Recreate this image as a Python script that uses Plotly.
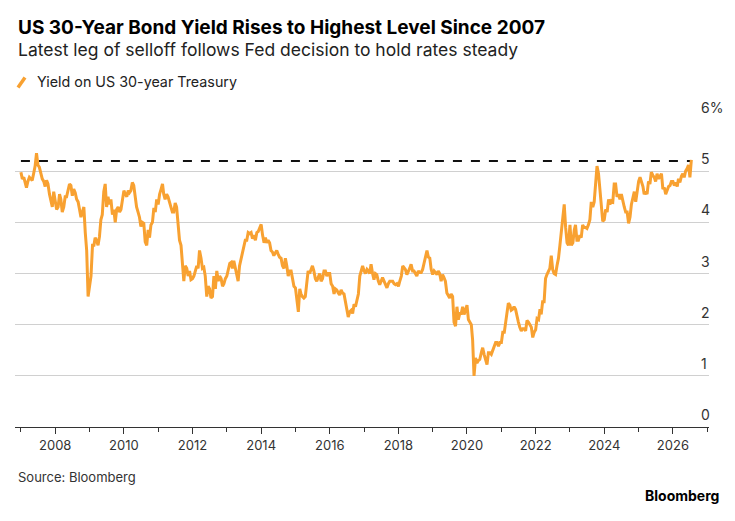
import plotly.graph_objects as go

# ---------------- data (semi-monthly readings: 1st and 16th of each month) ----------------
y2007 = [4.98, 4.85, 4.88, 4.75, 4.68, 4.80, 4.88, 4.85, 4.82, 4.95, 5.10, 5.35,
         5.12, 5.08, 4.95, 4.85, 4.80, 4.70, 4.82, 4.75, 4.55, 4.40, 4.30, 4.60]
y2008 = [4.45, 4.25, 4.30, 4.55, 4.45, 4.20, 4.30, 4.50, 4.50, 4.62, 4.75, 4.72,
         4.52, 4.65, 4.58, 4.45, 4.40, 4.25, 4.10, 4.20, 4.30, 3.80, 3.45, 2.55]
y2009 = [2.75, 2.95, 3.55, 3.55, 3.70, 3.65, 3.55, 3.72, 4.05, 4.15, 4.60, 4.75,
         4.30, 4.50, 4.35, 4.45, 4.15, 4.25, 4.00, 4.25, 4.30, 4.20, 4.25, 4.45]
y2010 = [4.62, 4.55, 4.50, 4.62, 4.58, 4.62, 4.78, 4.72, 4.50, 4.30, 4.20, 4.10,
         3.92, 4.00, 3.98, 3.62, 3.55, 3.85, 3.70, 3.95, 4.00, 4.28, 4.20, 4.45]
y2011 = [4.35, 4.55, 4.65, 4.75, 4.55, 4.45, 4.55, 4.50, 4.40, 4.30, 4.20, 4.20,
         4.38, 4.30, 4.00, 3.65, 3.55, 3.25, 2.85, 3.15, 3.10, 2.95, 3.05, 2.88]
y2012 = [2.90, 2.95, 3.05, 3.15, 3.10, 3.45, 3.30, 3.10, 3.12, 2.95, 2.55, 2.75,
         2.70, 2.52, 2.55, 2.95, 2.70, 3.05, 2.85, 2.95, 2.90, 2.75, 2.80, 2.90]
y2013 = [2.95, 3.05, 3.20, 3.22, 3.10, 3.25, 3.10, 2.92, 2.85, 3.15, 3.30, 3.40,
         3.52, 3.65, 3.65, 3.80, 3.78, 3.80, 3.68, 3.75, 3.65, 3.80, 3.82, 3.88]
y2014 = [3.96, 3.75, 3.60, 3.70, 3.60, 3.65, 3.60, 3.45, 3.42, 3.35, 3.40, 3.45,
         3.38, 3.32, 3.30, 3.15, 3.10, 3.30, 3.15, 2.95, 3.05, 3.05, 2.90, 2.75]
y2015 = [2.72, 2.45, 2.25, 2.70, 2.60, 2.55, 2.52, 2.55, 2.80, 3.05, 3.00, 3.10,
         3.15, 3.05, 2.90, 2.85, 2.95, 3.00, 2.85, 2.90, 3.05, 3.05, 2.95, 3.00]
y2016 = [3.00, 2.80, 2.75, 2.60, 2.70, 2.68, 2.62, 2.58, 2.68, 2.62, 2.60, 2.45,
         2.25, 2.15, 2.25, 2.28, 2.22, 2.40, 2.35, 2.50, 2.60, 2.95, 3.05, 3.15]
y2017 = [3.05, 3.00, 3.08, 3.05, 3.00, 3.18, 3.00, 2.88, 3.00, 2.98, 2.85, 2.78,
         2.85, 2.92, 2.85, 2.80, 2.72, 2.80, 2.85, 2.85, 2.85, 2.80, 2.78, 2.80]
y2018 = [2.75, 2.85, 2.95, 3.15, 3.12, 3.08, 2.98, 3.03, 3.10, 3.18, 3.05, 3.05,
         2.98, 2.95, 3.05, 3.02, 3.02, 3.08, 3.20, 3.35, 3.45, 3.32, 3.30, 3.08]
y2019 = [2.98, 3.05, 3.00, 2.98, 3.05, 3.00, 2.85, 2.98, 2.92, 2.85, 2.62, 2.58,
         2.52, 2.60, 2.55, 2.05, 1.97, 2.35, 2.10, 2.22, 2.22, 2.35, 2.20, 2.28]
y2020 = [2.38, 2.10, 2.05, 2.00, 1.70, 1.00, 1.35, 1.25, 1.30, 1.32, 1.45, 1.55,
         1.42, 1.30, 1.22, 1.45, 1.45, 1.42, 1.50, 1.55, 1.65, 1.65, 1.58, 1.65]
y2021 = [1.65, 1.85, 1.85, 2.05, 2.20, 2.42, 2.38, 2.28, 2.30, 2.35, 2.30, 2.15,
         2.05, 1.95, 1.88, 1.92, 1.92, 1.88, 2.08, 2.05, 1.98, 1.95, 1.75, 1.85]
y2022 = [1.90, 2.12, 2.10, 2.30, 2.20, 2.45, 2.45, 2.90, 2.98, 3.05, 3.10, 3.35,
         3.08, 3.00, 2.98, 3.15, 3.30, 3.55, 3.80, 4.15, 4.35, 3.90, 3.60, 3.55]
y2023 = [3.95, 3.55, 3.60, 3.85, 3.95, 3.65, 3.65, 3.75, 3.70, 3.95, 3.90, 3.90,
         3.88, 3.95, 4.05, 4.40, 4.30, 4.40, 4.75, 5.10, 4.95, 4.65, 4.45, 4.02]
y2024 = [4.05, 4.25, 4.20, 4.45, 4.35, 4.42, 4.40, 4.75, 4.75, 4.50, 4.55, 4.45,
         4.55, 4.40, 4.30, 4.20, 4.20, 3.98, 4.10, 4.35, 4.50, 4.60, 4.40, 4.60]
y2025 = [4.80, 4.88, 4.78, 4.70, 4.55, 4.60, 4.55, 4.80, 4.75, 4.98, 4.92, 4.88,
         4.80, 4.95, 4.85, 4.90, 4.95, 4.65, 4.68, 4.55, 4.65, 4.70, 4.72, 4.80]
y2026 = [4.80, 4.72, 4.78, 4.70, 4.85, 4.78, 4.90, 4.95, 4.88, 5.00, 5.05, 5.12,
         4.88, 5.22]

yearly = {2007: y2007, 2008: y2008, 2009: y2009, 2010: y2010, 2011: y2011,
          2012: y2012, 2013: y2013, 2014: y2014, 2015: y2015, 2016: y2016,
          2017: y2017, 2018: y2018, 2019: y2019, 2020: y2020, 2021: y2021,
          2022: y2022, 2023: y2023, 2024: y2024, 2025: y2025, 2026: y2026}

current_level = 5.2
y_ticks = [0, 1, 2, 3, 4, 5, 6]
y_tick_text = ["0", "1", "2", "3", "4", "5", "6%"]
x_tick_years = list(range(2008, 2027, 2))

dates, values = [], []
for yr, vals in yearly.items():
    for i, v in enumerate(vals):
        m = i // 2 + 1
        d = 1 if i % 2 == 0 else 16
        dates.append(f"{yr}-{m:02d}-{d:02d}")
        values.append(v)

# ---------------- layout helpers ----------------
W, H = 735, 521
L, R, T, B = 15, 709, 120, 427
ORANGE = "#F8A131"
FONT = "Inter"

def px(x):
    return (x - L) / (R - L)

def py(y):
    return (B - y) / (B - T)

fig = go.Figure()
fig.add_trace(go.Scatter(x=[dates[0], dates[-1]], y=[current_level, current_level],
                         mode="lines", line=dict(color="#111111", width=2, dash="dash"),
                         hoverinfo="skip", showlegend=False))
fig.add_trace(go.Scatter(x=dates, y=values, mode="lines",
                         line=dict(color=ORANGE, width=3),
                         name="Yield on US 30-year Treasury", showlegend=False))

fig.update_layout(
    width=W, height=H,
    margin=dict(l=L, r=W - R, t=T, b=H - B, pad=0),
    paper_bgcolor="white", plot_bgcolor="white",
    font=dict(family=FONT, color="#222222", size=13),
    showlegend=False,
    xaxis=dict(
        type="date", range=["2006-10-30", "2027-01-20"],
        tickvals=[f"{y}-01-01" for y in x_tick_years],
        ticktext=[str(y) for y in x_tick_years],
        ticks="outside", ticklen=6, tickwidth=1, tickcolor="#333333",
        minor=dict(tickvals=[f"{y}-01-01" for y in range(2007, 2028)],
                   ticks="outside", ticklen=4, tickwidth=1, tickcolor="#333333"),
        showline=True, linecolor="#333333", linewidth=1,
        showgrid=False, zeroline=False,
        tickfont=dict(size=13, color="#333333"),
    ),
    yaxis=dict(
        side="right", range=[0, 6],
        tickvals=y_ticks, ticktext=y_tick_text,
        ticklabelposition="outside top", ticklabelstandoff=-9, ticklabelshift=-2,
        showgrid=True, gridcolor="#d0d0d0", gridwidth=1,
        zeroline=False, showline=False, ticks="",
        tickfont=dict(size=14, color="#333333"),
    ),
)

ann = []
ann.append(dict(text="US 30-Year Bond Yield Rises to Highest Level Since 2007",
                x=px(16), y=py(27), xanchor="left", yanchor="middle",
                font=dict(size=19, color="#000000", family=FONT, weight=700)))
ann.append(dict(text="Latest leg of selloff follows Fed decision to hold rates steady",
                x=px(16), y=py(50), xanchor="left", yanchor="middle",
                font=dict(size=17.5, color="#222222", family=FONT)))
ann.append(dict(text="Yield on US 30-year Treasury",
                x=px(35), y=py(82), xanchor="left", yanchor="middle",
                font=dict(size=14.3, color="#222222", family=FONT)))
ann.append(dict(text="Source: Bloomberg",
                x=px(16), y=py(477), xanchor="left", yanchor="middle",
                font=dict(size=13, color="#333333", family=FONT)))
ann.append(dict(text="Bloomberg",
                x=px(721), y=py(495), xanchor="right", yanchor="middle",
                font=dict(size=14, color="#000000", family=FONT, weight=700)))
for a in ann:
    a.update(xref="paper", yref="paper", showarrow=False)
fig.update_layout(annotations=ann)

fig.add_shape(type="line", xref="paper", yref="paper",
              x0=px(18), y0=py(87.5), x1=px(25), y1=py(77.5),
              line=dict(color=ORANGE, width=3.5))

fig.write_html("out.html")
